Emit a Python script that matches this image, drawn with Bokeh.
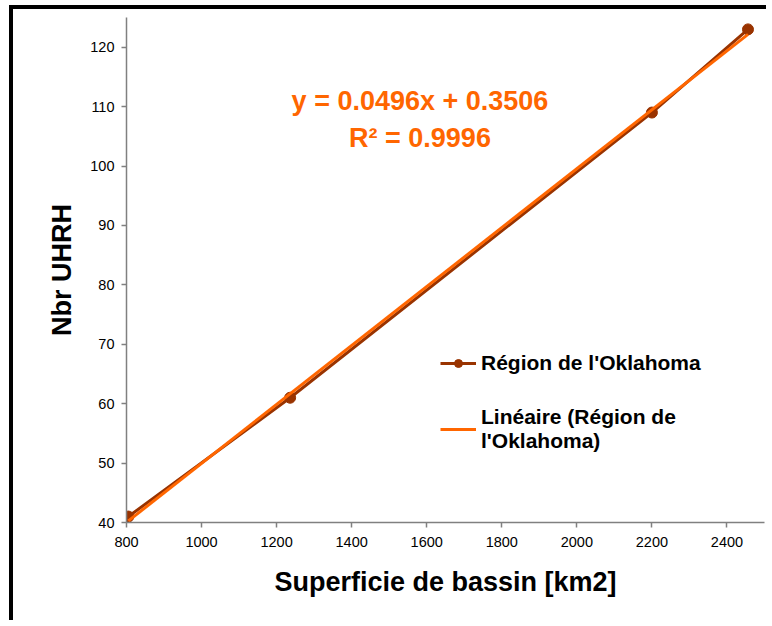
from bokeh.plotting import figure
from bokeh.models import Range1d, FixedTicker, Legend, LegendItem
from bokeh.core.properties import value
from bokeh.embed import file_html
from bokeh.resources import INLINE

# Data
superficie = [805, 1236, 2200, 2456]
nbr_uhrh = [41, 61, 109, 123]
slope = 0.0496
intercept = 0.3506
r2 = 0.9996
x_ticks = [800, 1000, 1200, 1400, 1600, 1800, 2000, 2200, 2400]
y_ticks = [40, 50, 60, 70, 80, 90, 100, 110, 120]

trend_x = [min(superficie), max(superficie)]
trend_y = [slope * v + intercept for v in trend_x]

FONT = "Liberation Sans"
DARK = "#993300"
ORANGE = "#FF6600"

p = figure(width=757, height=615, output_backend="svg", toolbar_location=None,
           x_range=Range1d(800, 2500), y_range=Range1d(40, 125),
           min_border_left=113, min_border_right=6, min_border_top=8, min_border_bottom=102)
p.styles = {"border-left": "4px solid black", "border-top": "4px solid black",
            "margin-left": "9px", "margin-top": "5px"}
p.outline_line_color = None
p.grid.visible = False
p.background_fill_color = "white"

r_data = p.line(superficie, nbr_uhrh, line_color=DARK, line_width=3)
r_pts = p.scatter(superficie, nbr_uhrh, size=11, fill_color=DARK, line_color=DARK)
r_trend = p.line(trend_x, trend_y, line_color=ORANGE, line_width=3)

for ax in (p.xaxis[0], p.yaxis[0]):
    ax.axis_line_color = "#808080"
    ax.axis_line_width = 1.5
    ax.major_tick_line_color = "#808080"
    ax.major_tick_line_width = 1.5
    ax.major_tick_in = 0
    ax.major_tick_out = 5
    ax.minor_tick_line_color = None
    ax.major_label_text_font = FONT
    ax.major_label_text_font_size = "14.5px"
    ax.major_label_text_color = "#000000"
    ax.axis_label_text_font = FONT
    ax.axis_label_text_font_size = "27px"
    ax.axis_label_text_font_style = "bold"
    ax.axis_label_text_color = "#000000"

p.xaxis.ticker = FixedTicker(ticks=x_ticks)
p.yaxis.ticker = FixedTicker(ticks=y_ticks)
p.xaxis.axis_label = "Superficie de bassin [km2]"
p.yaxis.axis_label = "Nbr UHRH"
p.xaxis.major_label_standoff = 9
p.xaxis.axis_label_standoff = 17
p.yaxis.major_label_standoff = 7
p.yaxis.axis_label_standoff = 10

eq_x = [1582, 1582]
eq_y = [110.9, 104.7]
eq_t = ["y = %.4fx + %.4f" % (slope, intercept), "R\u00b2 = %.4f" % r2]
p.text(eq_x, eq_y, text=eq_t, text_font=value(FONT), text_font_size="27px",
       text_font_style="bold", text_color=ORANGE, text_align="center", text_baseline="middle")

legend = Legend(items=[
    LegendItem(label="R\u00e9gion de l'Oklahoma", renderers=[r_data, r_pts]),
    LegendItem(label="Lin\u00e9aire (R\u00e9gion de\nl'Oklahoma)", renderers=[r_trend]),
], location=(314, 69))
legend.label_text_font = FONT
legend.label_text_font_size = "21px"
legend.label_text_font_style = "bold"
legend.label_text_color = "#000000"
legend.border_line_color = None
legend.background_fill_alpha = 0
legend.glyph_width = 36
legend.label_standoff = 5
legend.spacing = 30
legend.padding = 0
legend.margin = 0
p.add_layout(legend, "center")

open("out.html", "w").write(file_html(p, INLINE))
